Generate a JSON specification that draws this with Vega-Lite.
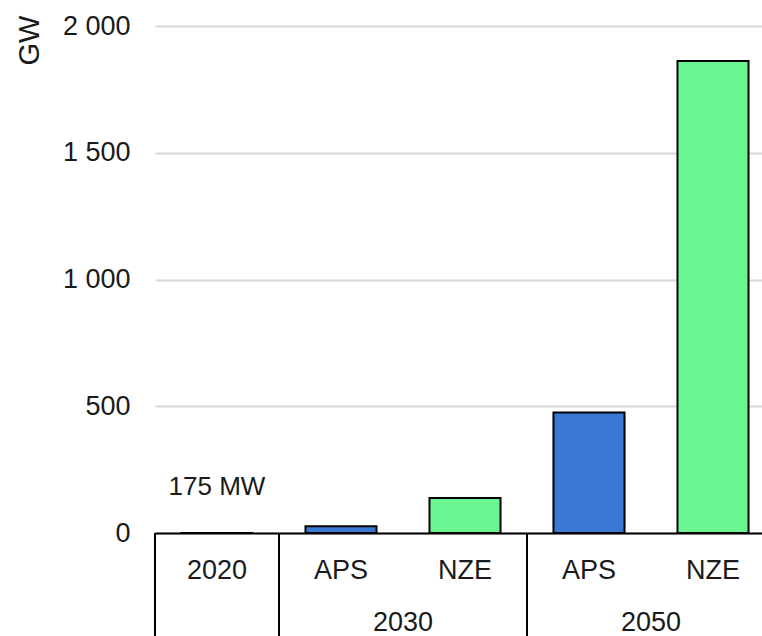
{
  "$schema": "https://vega.github.io/schema/vega-lite/v6.json",
  "width": 607,
  "height": 507,
  "autosize": {"type": "none"},
  "padding": {"left": 155, "top": 26, "right": 0, "bottom": 103},
  "background": "white",
  "config": {"font": "Liberation Sans", "view": {"stroke": null}},
  "datasets": {
    "bars": [
      {"category": "2020", "scenario": "2020", "value": 0.175, "note": "175 MW"},
      {"category": "2030 APS", "scenario": "APS", "value": 27, "note": ""},
      {"category": "2030 NZE", "scenario": "NZE", "value": 138, "note": ""},
      {"category": "2050 APS", "scenario": "APS", "value": 475, "note": ""},
      {"category": "2050 NZE", "scenario": "NZE", "value": 1862, "note": ""}
    ],
    "groups": [
      {"category": "2030 NZE", "year": "2030"},
      {"category": "2050 NZE", "year": "2050"}
    ],
    "separators": [
      {"category": "2020"},
      {"category": "2030 APS"},
      {"category": "2050 APS"}
    ]
  },
  "layer": [
    {
      "data": {"name": "bars"},
      "mark": {"type": "bar", "width": {"band": 0.573}, "stroke": "black", "strokeWidth": 2},
      "encoding": {
        "x": {
          "field": "category",
          "type": "nominal",
          "sort": null,
          "scale": {"domain": ["2020", "2030 APS", "2030 NZE", "2050 APS", "2050 NZE"], "range": [0, 620], "paddingInner": 0, "paddingOuter": 0},
          "axis": {
            "title": null,
            "labelExpr": "length(datum.value) > 4 ? substring(datum.value, 5) : datum.value",
            "labelAngle": 0,
            "labelFontSize": 27,
            "labelColor": "#1a1a1a",
            "labelBaseline": "middle",
            "labelPadding": 37,
            "ticks": false,
            "tickSize": 0,
            "domainColor": "black",
            "domainWidth": 2,
            "grid": false
          }
        },
        "y": {
          "field": "value",
          "type": "quantitative",
          "scale": {"domain": [0, 2000], "nice": false},
          "axis": {
            "values": [0, 500, 1000, 1500, 2000],
            "labelExpr": "replace(format(datum.value, ','), ',', ' ')",
            "labelFontSize": 27,
            "labelColor": "#1a1a1a",
            "labelPadding": 25,
            "ticks": false,
            "tickSize": 0,
            "domain": false,
            "gridColor": "#d9d9d9",
            "gridWidth": 2,
            "title": "GW",
            "titleFontSize": 29,
            "titleFontWeight": "normal",
            "titleColor": "#1a1a1a",
            "titleAngle": -90,
            "titleX": -126,
            "titleY": 14,
            "titleAlign": "center",
            "titleBaseline": "middle"
          }
        },
        "color": {
          "field": "scenario",
          "type": "nominal",
          "scale": {"domain": ["2020", "APS", "NZE"], "range": ["#000000", "#3a78d6", "#69f590"]},
          "legend": null
        }
      }
    },
    {
      "data": {"name": "bars"},
      "mark": {"type": "text", "fontSize": 26, "color": "#1a1a1a", "baseline": "middle", "dy": -46},
      "encoding": {
        "x": {"field": "category", "type": "nominal", "sort": null},
        "y": {"field": "value", "type": "quantitative"},
        "text": {"field": "note"}
      }
    },
    {
      "data": {"name": "separators"},
      "mark": {"type": "rule", "color": "black", "strokeWidth": 2},
      "encoding": {
        "x": {"field": "category", "type": "nominal", "sort": null, "bandPosition": 0},
        "y": {"datum": 0},
        "y2": {"datum": -450}
      }
    },
    {
      "data": {"name": "groups"},
      "mark": {"type": "text", "fontSize": 27, "color": "#1a1a1a", "baseline": "middle", "dy": 90},
      "encoding": {
        "x": {"field": "category", "type": "nominal", "sort": null, "bandPosition": 0},
        "y": {"datum": 0},
        "text": {"field": "year"}
      }
    }
  ]
}
